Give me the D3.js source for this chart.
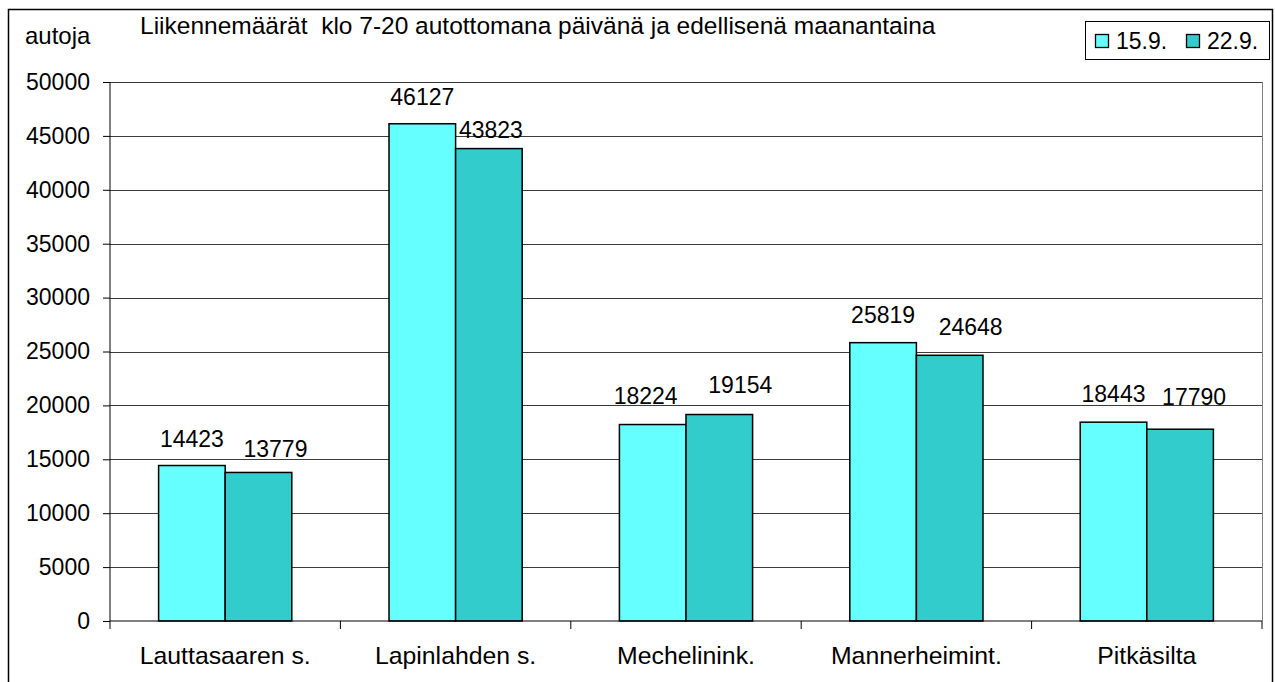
<!DOCTYPE html>
<html>
<head>
<meta charset="utf-8">
<script src="https://cdn.jsdelivr.net/npm/d3@7"></script>
<style>
  body { margin: 0; background: #fff; }
  text { font-family: "Liberation Sans", Arial, sans-serif; fill: #000; }
</style>
</head>
<body>
<svg id="chart" width="1275" height="682"></svg>
<script>
// data
var categories = ["Lauttasaaren s.", "Lapinlahden s.", "Mechelinink.", "Mannerheimint.", "Pitkäsilta"];
var seriesNames = ["15.9.", "22.9."];
var values1509 = [14423, 46127, 18224, 25819, 18443];
var values2209 = [13779, 43823, 19154, 24648, 17790];
var yTicks = [0, 5000, 10000, 15000, 20000, 25000, 30000, 35000, 40000, 45000, 50000];
var colors = ["#66FFFF", "#33CCCC"];

// hand-moved data labels in the original (dx, gap above bar top)
var labelDx = [[0, 17], [0, 2], [-7, 21], [0, 21], [0, 14]];
var labelGap = [[19, 15], [19, 11], [21, 22], [20, 20], [20, 24]];

var svg = d3.select("#chart");

// outer frame
svg.append("rect")
  .attr("x", 8.5).attr("y", 9.5)
  .attr("width", 1264).attr("height", 690)
  .attr("fill", "none").attr("stroke", "#000").attr("stroke-width", 1.5);

var plotL = 110, plotR = 1262, plotT = 82, plotB = 621;

var y = d3.scaleLinear().domain([0, 50000]).range([plotB, plotT]);
var x0 = d3.scaleBand().domain(categories).range([plotL, plotR]);
var x1 = d3.scaleBand().domain(seriesNames).range([0, x0.bandwidth()]).paddingOuter(0.73);

// gridlines
svg.append("g")
  .selectAll("line")
  .data(yTicks.filter(function (d) { return d > 0; }))
  .enter()
  .append("line")
  .attr("x1", plotL).attr("x2", plotR)
  .attr("y1", function (d) { return Math.round(y(d)) + 0.5; })
  .attr("y2", function (d) { return Math.round(y(d)) + 0.5; })
  .attr("stroke", "#3a3a3a");

// right border of plot
svg.append("line")
  .attr("x1", plotR + 0.5).attr("x2", plotR + 0.5)
  .attr("y1", plotT).attr("y2", plotB)
  .attr("stroke", "#808080");

// bars
var rows = categories.map(function (c, i) {
  return { cat: c, i: i, vals: [values1509[i], values2209[i]] };
});

var groups = svg.append("g")
  .selectAll("g")
  .data(rows)
  .enter()
  .append("g")
  .attr("transform", function (d) { return "translate(" + x0(d.cat) + ",0)"; });

groups.selectAll("rect")
  .data(function (d) {
    return d.vals.map(function (v, j) { return { s: seriesNames[j], v: v, i: d.i, j: j }; });
  })
  .enter()
  .append("rect")
  .attr("x", function (d) { return x1(d.s); })
  .attr("y", function (d) { return y(d.v); })
  .attr("width", x1.bandwidth())
  .attr("height", function (d) { return plotB - y(d.v); })
  .attr("fill", function (d) { return colors[d.j]; })
  .attr("stroke", "#000")
  .attr("stroke-width", 1.5);

// value labels
groups.selectAll("text.val")
  .data(function (d) {
    return d.vals.map(function (v, j) { return { s: seriesNames[j], v: v, i: d.i, j: j }; });
  })
  .enter()
  .append("text")
  .attr("class", "val")
  .attr("x", function (d) { return x1(d.s) + x1.bandwidth() / 2 + labelDx[d.i][d.j]; })
  .attr("y", function (d) { return y(d.v) - labelGap[d.i][d.j]; })
  .attr("text-anchor", "middle")
  .style("font-size", "23px")
  .text(function (d) { return d.v; });

// y axis
var yAxis = svg.append("g")
  .attr("transform", "translate(" + plotL + ",0)")
  .call(d3.axisLeft(y).tickValues(yTicks).tickFormat(d3.format("d")).tickSize(7).tickPadding(13));
yAxis.select(".domain").attr("stroke", "#000").attr("d", "M0," + plotT + "V" + plotB);
yAxis.selectAll("text").style("font-size", "23px");

// x axis
var xAxis = svg.append("g")
  .attr("transform", "translate(0," + plotB + ")")
  .call(d3.axisBottom(x0).tickSize(0).tickPadding(25));
xAxis.select(".domain").attr("d", "M" + plotL + ",0H" + plotR);
xAxis.selectAll("text").style("font-size", "24.8px");
xAxis.selectAll(".sep")
  .data(d3.range(categories.length + 1))
  .enter()
  .append("line")
  .attr("class", "sep")
  .attr("x1", function (i) { return plotL + i * x0.step(); })
  .attr("x2", function (i) { return plotL + i * x0.step(); })
  .attr("y1", 0).attr("y2", 8)
  .attr("stroke", "#000");

// axis title and chart title
svg.append("text").attr("x", 25).attr("y", 44)
  .style("font-size", "24px").text("autoja");
svg.append("text").attr("x", 140).attr("y", 34)
  .style("font-size", "24.5px")
  .attr("xml:space", "preserve")
  .text("Liikennemäärät  klo 7-20 autottomana päivänä ja edellisenä maanantaina");

// legend
var legend = svg.append("g");
legend.append("rect")
  .attr("x", 1085.5).attr("y", 21.5).attr("width", 184).attr("height", 38)
  .attr("fill", "#fff").attr("stroke", "#000");
var legendX = [1095, 1186];
seriesNames.forEach(function (s, i) {
  legend.append("rect")
    .attr("x", legendX[i] + 0.5).attr("y", 34.5).attr("width", 13).attr("height", 13)
    .attr("fill", colors[i]).attr("stroke", "#000").attr("stroke-width", 1.3);
  legend.append("text")
    .attr("x", legendX[i] + 21).attr("y", 49)
    .style("font-size", "23px").text(s);
});
</script>
</body>
</html>
